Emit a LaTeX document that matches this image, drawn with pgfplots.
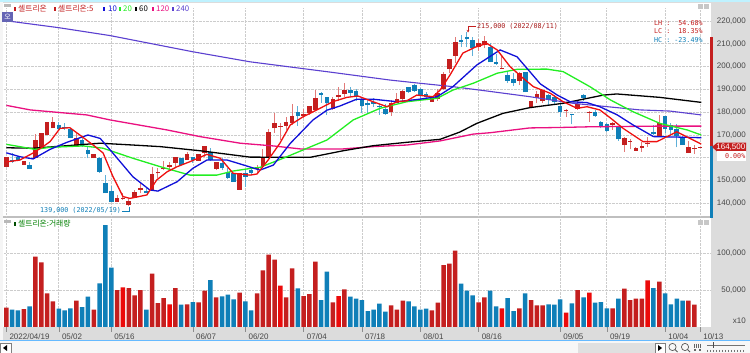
\documentclass[border=0pt]{standalone}
\usepackage{fontspec}
\usepackage{pgfplots}
\usepackage{pgfplotstable}
\usetikzlibrary{arrows.meta}
\pgfplotsset{compat=1.18}
\setmainfont{Liberation Sans}
\newfontfamily\kr{Noto Sans CJK KR}
\newfontfamily\mono{DejaVu Sans Mono}
\definecolor{cred}{HTML}{C41F1F}
\definecolor{cbri}{HTML}{EC0A0A}
\definecolor{cblu}{HTML}{0F7FB8}
\definecolor{wred}{HTML}{E27A78}
\definecolor{wblu}{HTML}{5FB0D8}
\definecolor{mared}{HTML}{EE1010}
\definecolor{mablu}{HTML}{1010D8}
\definecolor{magrn}{HTML}{22EE22}
\definecolor{mapnk}{HTML}{EA1080}
\definecolor{mapur}{HTML}{5B40D0}
\definecolor{panel}{HTML}{DCDCDC}
% candles: i, body top, body bottom, high, low
\pgfplotstableread{
i t b h l
0 160500 156100 160500 156100
3 158600 156800 158600 156800
5 167800 159800 170400 159800
6 170700 164200 170700 164200
7 175600 170000 175800 170000
8 175600 172900 177800 172900
12 168500 165200 170700 165200
15 161700 159800 161700 159800
19 142500 140700 143700 140700
20 142400 142000 144400 141500
21 141000 139200 142200 139000
22 145100 142200 145900 142200
23 146900 145900 149500 144400
25 152900 145900 155800 145900
26 153900 153200 155400 151000
27 155400 155000 158700 154600
28 156800 156100 158300 154600
29 160200 157900 160200 155400
31 161500 159000 162700 159000
33 161500 158700 161500 158700
34 165200 162000 165200 160500
36 158300 155000 158300 154600
40 153200 145900 153200 145900
43 155800 155000 156800 153200
44 160200 156400 163700 156400
45 171500 160200 172500 160200
46 175400 172900 179500 171000
47 174100 173600 175100 167800
48 175800 174000 178000 172200
49 178300 175100 183600 174400
51 179200 178300 181300 177300
52 182700 179800 182700 178800
53 186100 181000 189700 181000
56 185700 181300 186800 181000
57 187500 186800 190900 185000
58 189700 188000 192700 186800
66 184200 180000 185400 178500
67 185700 183900 188500 183900
68 189300 185700 189700 183900
73 186100 184600 186100 184600
74 188500 185700 190000 185000
75 196600 190200 197800 189700
76 203200 198800 203200 197100
77 210900 204800 213100 201500
81 210500 208500 212100 206800
82 211400 209500 213500 208000
85 199400 199000 204800 199000
88 197100 193800 197500 191900
90 185000 181700 185000 181700
91 188000 186100 189300 183900
92 189600 185000 189600 183900
96 181000 180500 181400 178000
98 183600 181300 184900 181000
100 180200 179800 180700 175800
104 175100 174400 175800 172200
106 168500 165600 169300 162700
107 167500 167100 168100 163700
108 164200 163100 164700 163000
109 165200 164300 167100 162700
110 166600 166200 169100 164700
112 175100 169600 178800 169300
117 164900 162000 167500 162000
118 164300 163900 165600 161700
119 164700 164300 164700 164300
}\candup
\pgfplotstableread{
i t b h l
1 159000 158300 162000 157900
2 160500 159000 160800 159000
4 156800 155000 158300 155000
9 174400 172500 175800 172200
10 173600 172900 175100 172200
11 172500 168500 172500 168500
13 167800 165200 168700 164700
14 163400 161700 164900 159800
16 159800 153900 160500 153500
17 148800 144400 152400 144400
18 145400 140700 147600 140700
24 145400 144700 146600 144400
30 159800 156800 159800 156800
32 160200 159000 160500 157600
35 162700 159000 164200 158700
37 157600 155400 159800 154600
38 153900 151300 155400 150600
39 153200 149500 153200 149500
41 153200 151700 154600 147300
42 154600 153500 155800 152400
50 180100 178300 182700 174000
54 188300 187500 189000 184200
55 186500 183900 186800 178800
59 189700 188500 190900 186800
60 189400 186800 190000 185000
61 185700 182700 186800 179500
62 183900 183000 185700 179500
63 184600 183600 186100 182400
64 182700 182200 183600 178800
65 181300 179100 183600 178800
69 190900 189000 190900 188500
70 191900 189400 192400 189000
71 190000 187100 190500 185400
72 188000 186500 189000 185400
78 211700 210900 213900 208500
79 213000 212100 215000 208500
80 211700 208000 213100 204800
83 208700 201900 210200 201900
84 202100 201000 205400 200700
86 196300 193800 197500 192700
87 194600 192700 197100 191500
89 197800 188700 197800 188700
93 187500 185400 187800 182800
94 186800 184300 187500 183500
95 182800 179900 183900 178000
97 179200 178800 179200 174700
99 187500 186400 187800 184900
101 180200 178300 181000 177900
102 175800 174000 176300 172900
103 174800 171900 175100 171500
105 173400 168100 173400 167500
111 171200 170300 174400 170000
113 178300 172500 178300 171000
114 174400 172200 175100 170400
115 172500 169600 174800 164600
116 168500 165600 169600 165600
}\canddn
% moving averages
\pgfplotstableread{
x y
0 158200
2.3 159000
4.6 162100
6.3 164900
7.5 167100
9.2 172900
10.9 173200
12.6 170000
14.9 165600
16.6 162100
18.3 151700
20 143000
21.2 142200
24.1 143700
25.8 150300
27.6 153900
29.3 156100
31.5 158300
34.4 161500
36.7 159800
38.9 153200
41.8 152400
43 152900
44.9 159000
46.9 166300
48.7 174400
50.9 178000
53.8 181700
56 184600
58.4 186500
60.3 187100
62.9 184600
65.3 182400
67 184600
68.7 185000
70.4 187500
73.2 186800
74.4 189700
76.1 196300
78.3 205900
80.4 208500
82.4 210200
84.2 207300
86.4 200000
88.6 195000
90.4 191200
93.3 188300
95.5 184600
97.9 181700
99.6 182400
101.8 181000
103.6 177500
105.8 172900
109.2 167100
111.6 167100
115 171400
119.2 166000
}\mafive
\pgfplotstableread{
x y
0 162200
2.3 160500
4.6 159500
7.5 163700
10.4 166800
14 170000
16.1 168500
18.3 162000
21.7 151700
24.6 145900
26 145400
29.3 149500
32 155400
34.4 159000
37.9 159000
40.1 157300
43.5 154600
45.8 156800
48.7 166300
52.6 176600
55 180900
57.2 182700
60.1 185700
62.9 185700
67 184600
70.9 185700
73.9 186800
76.6 191200
80.7 200700
84.7 207300
87.6 204300
91.6 192400
94.5 187500
96.7 184600
99.6 184200
101.8 182400
104.8 178800
107.5 174400
111 169300
115 169100
119.2 168800
}\maten
\pgfplotstableread{
x y
0 165900
2.3 164900
4.9 163700
7.5 164600
13.2 165200
16.6 164200
21.7 159800
26.4 156100
31.5 152400
36.1 152400
38.9 154200
41.8 155300
43.5 155800
47.5 159800
51.6 164200
55 167800
59.5 176600
64.1 181700
68.7 184600
73.9 186100
76.6 189700
80.1 192700
84.2 197100
87.6 198800
92.7 198900
95.5 197800
100.1 191200
103.6 185400
107.5 180200
112.1 175100
116.8 172200
119.2 170000
}\matwenty
\pgfplotstableread{
x y
0 164400
4.6 164200
16.1 166400
21.7 165600
26.4 164900
33.2 163100
41.8 160300
52.1 160200
57.8 163100
62.9 165300
68.7 166800
74.4 168100
77.8 171300
80.7 175100
85.2 179500
89.8 182000
95.5 183900
102.4 187500
104.7 188000
112.1 186500
119.2 184300
}\masixty
\pgfplotstableread{
x y
0 183000
4.1 181000
13.8 178800
17.8 176600
27.6 172200
33.2 169300
40.1 166400
45.8 165200
50.4 163900
57.8 163900
62.9 164900
68.7 165600
74.4 167400
80.1 170400
83 171000
89.8 173100
95 173300
100.1 173600
112.1 173900
119.2 173900
}\maonetwenty
\pgfplotstableread{
x y
0 220100
8.9 217100
17.8 213600
32 206500
41.8 202100
55.5 197600
65.8 194100
70.9 192700
76.6 191200
82.4 189300
89.8 186800
97.2 183900
108.7 181000
113.8 180500
119.2 178800
}\matwoforty
% volume: i, value
\pgfplotstableread{
i v
0 26100
3 24300
5 95000
6 87300
7 45450
8 34650
12 35550
15 23400
19 49950
21 52650
22 42750
23 49950
25 72000
26 32400
27 39150
29 52650
31 30600
33 33300
34 49050
36 40050
40 46350
43 45450
44 76500
45 97650
46 90900
48 40050
49 79200
51 41850
52 44550
53 88200
56 33300
58 50850
66 29250
67 23400
68 35550
73 22500
74 32850
75 83700
76 85500
77 103050
81 33300
82 40050
88 25200
90 36450
91 29250
92 29250
98 49950
104 25200
106 51750
107 36450
108 38250
109 38250
112 61200
117 35550
118 30150
}\volred
\pgfplotstableread{
i v
20 53550
28 30600
47 55800
57 41850
85 25200
96 19350
100 46350
110 63000
}\volbri
\pgfplotstableread{
i v
1 23400
2 22500
4 27900
9 24750
10 22500
11 25200
13 27000
14 40950
16 58950
17 137700
18 80100
24 23400
30 30150
32 33750
35 63450
37 41400
38 43650
39 37350
41 34650
42 22500
50 52200
54 36450
55 74700
59 40950
60 38250
61 36450
62 21600
63 23400
64 31500
65 20700
69 34650
70 27900
71 23400
72 24750
78 58500
79 49050
80 42750
83 49050
84 27900
86 39150
87 21600
89 45450
93 30600
94 30150
95 37350
97 31950
99 40050
101 32850
102 33750
103 25200
105 38250
111 52650
113 45450
114 30600
115 38250
116 35550
}\volblu
\pgfplotsset{
  chartaxis/.style={
    scale only axis, width=707pt,
    xmin=-0.4, xmax=120.87,
    axis line style={draw=none},
    tick style={draw=none},
    xmajorgrids, ymajorgrids,
    grid style={densely dotted, color=black!20, line width=0.7pt},
    xtick={0,9,18,32,41,51,61,71,81,95,103,113,119},
    yticklabel pos=right,
    scaled y ticks=false,
    tick label style={font=\fontsize{8}{9}\selectfont, text=black!72},
    yticklabel style={anchor=east, inner sep=0pt, xshift=35pt},
  },
  candlew/.style={draw=none, mark=none, forget plot,
    error bars/.cd, y dir=plus, y explicit, error mark=none,
    error bar style={line width=1pt, draw=#1}},
  candleb/.style={draw=none, mark=none, forget plot,
    error bars/.cd, y dir=plus, y explicit, error mark=none,
    error bar style={line width=4.6pt, draw=#1}},
}
\begin{document}
\begin{tikzpicture}[x=1pt,y=1pt]
\useasboundingbox (0,0) rectangle (750,353);
\begin{scope}[x=1pt,y=-1pt,shift={(0,353pt)}]
  \fill[color=panel] (0,0) rectangle (750,353);
  \fill[color=black!4] (0,0) rectangle (3,341);
  \fill[color=white] (3,3) rectangle (711,216);
  \fill[color=white] (3,218) rectangle (711,327);
  \fill[color=black!25] (3,216) rectangle (711,218);
  \fill[color=blue!20!cyan!25] (0,0) rectangle (750,2);
  \fill[color=black!3] (0,341) rectangle (750,353);
\end{scope}
% price panel
\begin{axis}[chartaxis, name=price, at={(4pt,137pt)}, anchor=south west,
  height=208pt, ymin=134473, ymax=225702,
  ytick={140000,150000,160000,170000,180000,190000,200000,210000,220000},
  yticklabels={{140,000},{150,000},{},{170,000},{180,000},{190,000},{200,000},{210,000},{220,000}},
  xticklabels={}]
  \addplot[candlew=wred] table[x=i,y=l,y error plus expr=\thisrow{h}-\thisrow{l}] {\candup};
  \addplot[candlew=wblu] table[x=i,y=l,y error plus expr=\thisrow{h}-\thisrow{l}] {\canddn};
  \addplot[candleb=cred] table[x=i,y=b,y error plus expr=\thisrow{t}-\thisrow{b}] {\candup};
  \addplot[candleb=cblu] table[x=i,y=b,y error plus expr=\thisrow{t}-\thisrow{b}] {\canddn};
  \addplot[color=mapur, line width=1.1pt, mark=none] table[x=x,y=y] {\matwoforty};
  \addplot[color=mapnk, line width=1.3pt, mark=none] table[x=x,y=y] {\maonetwenty};
  \addplot[color=black, line width=1.3pt, mark=none] table[x=x,y=y] {\masixty};
  \addplot[color=magrn, line width=1.3pt, mark=none] table[x=x,y=y] {\matwenty};
  \addplot[color=mablu, line width=1.3pt, mark=none] table[x=x,y=y] {\maten};
  \addplot[color=mared, line width=1.3pt, mark=none] table[x=x,y=y] {\mafive};
\end{axis}
% volume panel
\begin{axis}[chartaxis, name=vol, at={(4pt,26pt)}, anchor=south west,
  height=109pt, ymin=0, ymax=147297,
  ytick={50000,100000},
  yticklabels={{50,000},{100,000}},
  xticklabels={2022/04/19,05/02,05/16,06/07,06/20,07/04,07/18,08/01,08/16,09/05,09/19,10/04,10/13},
  xticklabel style={anchor=west, inner sep=0pt, xshift=3pt, yshift=-5pt},
  ybar, bar width=4.5pt, bar shift=0pt]
  \addplot[fill=cred, draw=none] table[x=i,y=v] {\volred};
  \addplot[fill=cbri, draw=none] table[x=i,y=v] {\volbri};
  \addplot[fill=cblu, draw=none] table[x=i,y=v] {\volblu};
\end{axis}
\begin{scope}[x=1pt,y=-1pt,shift={(0,353pt)}]
  \tikzset{lab/.style={inner sep=0pt, anchor=west, font=\fontsize{7.8}{9}\selectfont\kr},
           mon/.style={inner sep=0pt, anchor=west, font=\fontsize{6.7}{8}\selectfont\mono}}
  % grey x-strip ticks
  \foreach \xx in {6.3,58.8,111.2,192.9,245.3,303.6,362,420.2,478.5,560.2,606.8,665.1,700.1}
    \draw[color=black!45, line width=0.6pt] (\xx,327) -- (\xx,332);
  % small window buttons
  \fill[color=black!28] (4,4) rectangle (11,7);
  \fill[color=black!28] (4,220) rectangle (11,223);
  \foreach \yy in {4,220}{
    \fill[color=black!22] (698,\yy) rectangle (703,\yy+5);
    \fill[color=black!22] (704,\yy) rectangle (709,\yy+5);
  }
  \fill[color=blue!35!gray!90!white] (2,12) rectangle (13,22);
  \node[inner sep=0pt, text=white, font=\fontsize{7}{8}\selectfont\kr] at (7.5,17) {오};
  % legend
  \fill[color=cred] (14,7) rectangle (15.5,11);
  \node[lab, text=cred] at (18,8.7) {셀트리온};
  \fill[color=cred] (54,7) rectangle (55.5,11);
  \node[lab, text=cred] at (58,8.7) {셀트리온:5};
  \fill[color=mablu] (103,7) rectangle (104.5,11);
  \node[lab, text=mablu] at (108,8.7) {10};
  \fill[color=magrn] (119,7) rectangle (120.5,11);
  \node[lab, text=magrn] at (123,8.7) {20};
  \fill[color=black] (135,7) rectangle (136.5,11);
  \node[lab, text=black] at (139,8.7) {60};
  \fill[color=mapnk] (152,7) rectangle (153.5,11);
  \node[lab, text=mapnk] at (156,8.7) {120};
  \fill[color=mapur] (172,7) rectangle (173.5,11);
  \node[lab, text=mapur] at (176,8.7) {240};
  \fill[color=black!70!green] (14,222) rectangle (15.5,226);
  \node[lab, text=green!50!black] at (18,224) {셀트리온:거래량};
  % annotations
  \node[mon, text=cred!85!black] at (477,26.7) {215,000 (2022/08/11)};
  \draw[color=cred, line width=0.6pt, -{Stealth[length=2.5pt,width=2.5pt]}] (476,26.7) -- (468,26.7) -- (468,32.5);
  \node[mon, text=cblu] at (40,210.7) {139,000 (2022/05/19)};
  \draw[color=cblu, line width=0.6pt] (122,211) -- (129,211) -- (129,207.5);
  \node[mon, text=cred] at (654,23.3) {LH :\ \ 54.68\%};
  \node[mon, text=cred] at (654,31.5) {LC :\ \ 18.35\%};
  \node[mon, text=cblu] at (654,39.7) {HC : -23.49\%};
  % range bar and price tag
  \fill[color=cred] (710,37) rectangle (712.5,146);
  \fill[color=cblu] (710,146) rectangle (712.5,218);
  \fill[color=cred] (712,147) -- (717,142.7) -- (746,142.7) -- (746,151.5) -- (717,151.5) -- cycle;
  \node[inner sep=0pt, anchor=east, text=white, font=\fontsize{8}{9}\selectfont] at (745.5,147.2) {164,500};
  \fill[color=white] (717,151.5) rectangle (746,161);
  \node[mon, anchor=east, text=cred] at (745.5,156.4) {0.00\%};
  \node[inner sep=0pt, anchor=east, text=black!72, font=\fontsize{8}{9}\selectfont] at (746,321) {x10};
  % bottom strip
  \draw[color=blue!45!cyan!60!white, line width=1pt] (0,341) -- (750,341);
  \fill[color=white, draw=black!50, line width=0.4pt] (0,343) rectangle (11,353);
  \fill[color=black] (3,348) -- (7,345) -- (7,351) -- cycle;
  \fill[color=black!12] (578,343) rectangle (655,353);
  \fill[color=white, draw=black!50, line width=0.4pt] (655,343) rectangle (665,353);
  \fill[color=black] (662,348) -- (658,345) -- (658,351) -- cycle;
  \foreach \xx in {672.5,685}{
    \draw[color=black!65, line width=0.7pt] (\xx,347) circle (3.6);
    \draw[color=black!65, line width=0.9pt] (\xx+2.5,349.5) -- (\xx+5,352);
  }
  \foreach \xx in {694,696,698,700} \draw[color=black!60, line width=0.6pt] (\xx,344) -- (\xx,348);
  \foreach \xx in {694,699} \fill[color=black!60] (\xx,349) rectangle (\xx+2,351.5);
  \draw[color=black!55, line width=0.6pt] (707,345.5) -- (745,345.5);
  \draw[color=black!70, line width=1pt] (713,342.5) -- (713,348);
  \foreach \xx in {707,710,...,745} \draw[color=black!55, line width=0.4pt] (\xx,350) -- (\xx,352.5);
\end{scope}
\end{tikzpicture}
\end{document}
